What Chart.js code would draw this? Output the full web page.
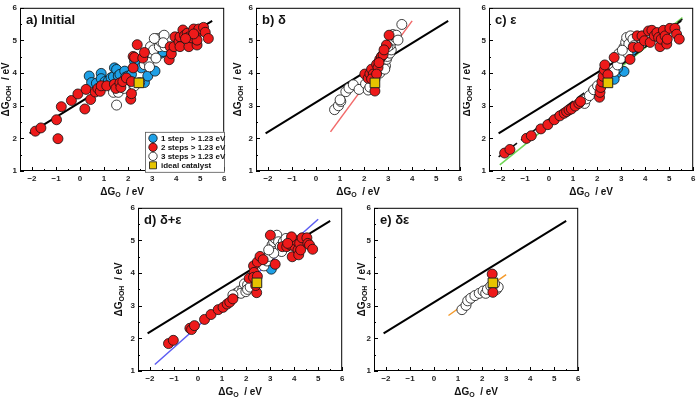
<!DOCTYPE html>
<html>
<head>
<meta charset="utf-8">
<script src="https://cdn.jsdelivr.net/npm/chart.js@4.4.1/dist/chart.umd.min.js"></script>
<style>
  body { margin: 0; background: #fff; width: 700px; height: 398px; position: relative; overflow: hidden; }
  canvas { position: absolute; }
</style>
</head>
<body>
<canvas id="pa" width="238" height="198"></canvas>
<canvas id="pb" width="238" height="198"></canvas>
<canvas id="pc" width="238" height="198"></canvas>
<canvas id="pd" width="238" height="198"></canvas>
<canvas id="pe" width="238" height="198"></canvas>
<script>
// axis ranges and ticks
const xRange = [-2.5, 6];
const yRange = [1, 6];
const xTicks = [-2, -1, 0, 1, 2, 3, 4, 5, 6];
const yTicks = [1, 2, 3, 4, 5, 6];

// scaling relation (black line, same in every panel)
const scaleLineX = [-2.1, 5.5];
const scaleLineY = [2.15, 5.6];

// ideal catalyst
const idealX = 2.45;
const idealY = 3.7;

// a) Initial
const aBlue = [[0.38,3.91],[0.48,3.71],[0.68,3.69],[0.88,3.99],[0.88,3.83],[1.04,3.74],[1.18,3.76],[1.29,3.86],
  [1.39,3.89],[1.43,4.16],[1.52,4.11],[1.59,3.91],[1.66,3.96],[1.86,4.06],[1.9,3.88],[2.0,3.91],[2.14,3.96],
  [2.27,4.36],[2.55,4.16],[2.68,3.71],[2.82,3.91],[3.12,4.06],[3.37,4.61],[3.46,4.66]];
const aRed = [[-1.86,2.22],[-1.63,2.32],[-0.98,2.57],[-0.78,2.97],[-0.92,1.99],[-0.36,3.16],[-0.09,3.36],
  [0.2,2.9],[0.25,3.5],[0.44,3.19],[0.63,3.42],[0.74,3.53],[0.84,3.44],[0.88,3.61],[1.11,3.61],[1.43,3.66],
  [1.49,3.53],[1.66,3.7],[1.7,3.56],[1.78,3.74],[1.93,3.85],[2.11,3.2],[2.14,3.37],[2.14,3.74],[2.21,4.16],
  [2.21,4.51],[2.27,4.48],[2.38,4.87],[2.61,4.46],[2.68,4.63],[3.71,4.41],[3.75,4.81],[3.8,4.59],[3.91,4.81],
  [3.95,5.11],[4.12,4.96],[4.16,5.11],[4.16,4.81],[4.28,5.32],[4.35,5.15],[4.46,5.22],[4.53,5.11],[4.53,4.81],
  [4.63,5.08],[4.73,5.35],[4.83,5.15],[4.87,4.86],[4.87,5.01],[4.94,5.35],[5.14,5.4],[5.21,5.25],[5.34,5.06],
  [4.73,5.2],[4.39,5.06]];
const aWhite = [[1.52,3.02],[1.39,3.41],[1.59,3.41],[1.84,3.53],[2.27,3.61],[2.48,3.71],[2.68,4.26],[2.75,4.46],
  [2.86,4.33],[2.93,4.81],[2.98,4.61],[3.06,4.71],[3.16,4.46],[3.23,5.06],[3.3,4.81],[3.37,4.96],[3.43,5.11],
  [3.5,5.16],[3.54,4.81],[3.46,4.93],[3.09,5.06],[2.89,4.19]];

// b) delta
const bRed = [[2.03,3.97],[2.17,3.84],[2.24,3.98],[2.31,4.12],[2.38,3.97],[2.45,3.45],[2.52,4.27],[2.58,4.17],
  [2.65,4.42],[2.72,4.51],[2.79,4.56],[2.93,4.86],[3.04,5.16],[2.45,3.82],[2.31,3.82],[2.52,3.97],[2.62,4.32],
  [2.83,4.71]];
const bWhite = [[0.77,2.88],[0.93,3.0],[1.03,3.13],[1.0,3.18],[1.24,3.43],[1.37,3.54],[1.55,3.64],[1.79,3.5],
  [2.06,3.67],[2.17,3.48],[2.24,3.57],[2.45,3.92],[2.65,4.0],[2.79,4.27],[2.89,4.22],[2.93,4.42],[2.97,4.51],
  [3.07,4.61],[3.13,4.71],[3.09,4.86],[3.2,5.01],[3.27,5.11],[3.2,5.18],[3.34,5.16],[3.41,5.01],[3.57,5.49],
  [2.99,4.81],[2.86,4.12]];
const bFitX = [0.6, 4.0];
const bFitY = [2.2, 5.6];

// c) epsilon
const cBlue = [[2.82,4.0],[2.71,3.81],[3.12,4.05],[3.39,4.6],[3.46,4.7],[2.85,4.15]];
const cRed = [[-1.85,1.55],[-1.63,1.66],[-0.94,2.0],[-0.74,2.08],[-0.34,2.29],[-0.05,2.42],[0.22,2.57],
  [0.45,2.69],[0.63,2.77],[0.73,2.82],[0.83,2.87],[0.93,2.9],[1.09,2.99],[1.24,3.07],[1.31,3.13],[2.1,3.26],
  [2.12,3.41],[2.15,3.56],[2.2,3.73],[2.25,3.9],[2.3,4.1],[2.32,4.25],[2.45,3.95],[2.71,4.48],[3.37,4.42],
  [3.5,4.79],[3.67,5.14],[3.73,4.79],[3.87,5.14],[3.97,4.99],[4.14,5.29],[4.21,4.94],[4.28,5.31],[4.38,5.14],
  [4.49,5.24],[4.56,5.09],[4.62,4.81],[4.67,5.04],[4.76,5.31],[4.83,5.14],[4.9,4.89],[4.92,5.04],[5.03,5.37],
  [5.24,5.37],[5.31,5.19],[5.42,5.04]];
const cWhite = [[1.48,3.07],[1.55,3.21],[1.68,3.31],[1.86,3.49],[2.02,3.61],[2.71,4.05],[2.85,4.25],[2.91,4.6],
  [2.98,4.45],[3.12,4.79],[3.19,4.94],[3.23,5.09],[3.32,4.89],[3.39,5.14],[3.49,5.04],[3.53,4.84],[3.28,4.6],
  [3.05,4.7]];
const cDashX = [-2.1, 5.55];
const cDashY = [1.43, 5.65];
const cFitX = [-2.05, 5.55];
const cFitY = [1.19, 5.7];

// d) delta+epsilon
const dBlue = [[3.05,4.12]];
const dRed = [[-1.23,1.84],[-1.03,1.94],[-0.34,2.31],[-0.27,2.27],[-0.15,2.39],[0.27,2.58],[0.54,2.73],
  [0.84,2.88],[1.04,2.95],[1.21,3.05],[1.32,3.11],[1.45,3.21],[2.13,3.84],[2.31,4.22],[2.33,4.02],[2.31,3.87],
  [2.47,4.34],[2.58,4.51],[2.71,4.41],[2.44,3.4],[2.47,3.9],[2.4,3.62],[3.01,5.16],[3.21,4.27],[3.51,4.81],
  [3.69,4.81],[3.82,4.91],[3.85,4.86],[3.92,4.5],[4.03,4.81],[4.09,4.99],[4.16,4.71],[4.19,4.56],[4.23,4.91],
  [4.27,4.71],[4.33,5.08],[4.53,5.08],[4.57,4.91],[4.64,4.86],[4.77,4.73],[3.89,5.11],[3.73,4.91]];
const dWhite = [[1.59,3.38],[1.72,3.45],[1.86,3.5],[1.93,3.67],[2.06,3.64],[1.79,3.38],[1.99,3.43],[2.06,3.5],
  [2.17,3.57],[2.74,4.22],[2.87,4.37],[2.94,4.51],[3.01,4.71],[3.08,4.86],[3.15,4.96],[3.21,5.06],[3.28,5.16],
  [3.35,4.96],[3.42,4.81],[3.48,4.66],[3.55,4.96],[3.66,5.06],[3.15,4.61],[2.94,4.71],[1.45,3.33]];
const dFitX = [-1.8, 5.0];
const dFitY = [1.2, 5.65];

// e) delta-epsilon
const eRed = [[2.42,3.97],[2.45,3.41]];
const eWhite = [[1.16,2.88],[1.33,3.01],[1.4,3.15],[1.53,3.23],[1.7,3.31],[1.88,3.38],[2.04,3.45],[2.15,3.38],
  [2.22,3.5],[2.36,3.6],[2.49,3.54],[2.6,3.5],[2.67,3.57],[2.52,3.67]];
const eFitX = [0.6, 3.0];
const eFitY = [2.7, 3.95];

const legendLabels = ['1 step   > 1.23 eV', '2 steps > 1.23 eV', '3 steps > 1.23 eV', 'ideal catalyst'];

const RED = '#ee1a1a', BLUE = '#1ea0e6', WHITE = '#ffffff', GOLD = '#e6c400';
const FONT = "'Liberation Sans', Arial, sans-serif";
Chart.defaults.font.family = FONT;

const toXY = arr => arr.map(p => ({ x: p[0], y: p[1] }));
const lineXY = (xs, ys) => xs.map((v, i) => ({ x: v, y: ys[i] }));

function pts(arr, color, order) {
  return { data: toXY(arr), backgroundColor: color, borderColor: '#111', borderWidth: 0.8,
    pointRadius: 5, order: order };
}
function ideal() {
  return { data: [{ x: idealX, y: idealY }], pointStyle: 'rect', backgroundColor: GOLD, borderColor: '#222',
    borderWidth: 1, pointRadius: 6.8, order: 0 };
}
function line(xs, ys, color, width, dash) {
  return { data: lineXY(xs, ys), showLine: true, pointRadius: 0, borderColor: color, borderWidth: width,
    borderDash: dash || [], order: 10 };
}

function richText(ctx, parts, x, y) {
  const big = 'bold 10px ' + FONT, small = 'bold 7px ' + FONT;
  let w = 0;
  parts.forEach(p => { ctx.font = p.sub ? small : big; w += ctx.measureText(p.t).width; });
  let cx = x - w / 2;
  ctx.textAlign = 'left';
  ctx.textBaseline = 'middle';
  parts.forEach(p => {
    ctx.font = p.sub ? small : big;
    ctx.fillText(p.t, cx, p.sub ? y + 3 : y);
    cx += ctx.measureText(p.t).width;
  });
}

const decor = {
  id: 'decor',
  afterDatasetsDraw(chart, args, o) {
    const { ctx, chartArea: a, scales } = chart;
    const sx = scales.x, sy = scales.y;
    ctx.save();
    ctx.strokeStyle = '#000';
    ctx.lineWidth = 1;
    ctx.strokeRect(a.left + 0.5, a.top + 0.5, a.width - 1, a.height - 1);
    // inward ticks
    ctx.beginPath();
    for (let v = xRange[0]; v <= xRange[1]; v += 0.5) {
      const px = Math.round(sx.getPixelForValue(v)) + 0.5;
      const len = Number.isInteger(v) ? 4 : 2;
      ctx.moveTo(px, a.bottom); ctx.lineTo(px, a.bottom - len);
    }
    for (let v = yRange[0]; v <= yRange[1]; v += 0.5) {
      const py = Math.round(sy.getPixelForValue(v)) + 0.5;
      const len = Number.isInteger(v) ? 4 : 2;
      ctx.moveTo(a.left, py); ctx.lineTo(a.left + len, py);
    }
    ctx.stroke();

    ctx.fillStyle = '#111';
    // panel label
    ctx.font = 'bold 13px ' + FONT;
    ctx.textAlign = 'left';
    ctx.textBaseline = 'middle';
    ctx.fillText(o.label, a.left + 6, a.top + 13);
    // axis titles
    richText(ctx, [{ t: 'ΔG' }, { t: 'O', sub: true }, { t: '  / eV' }], (a.left + a.right) / 2, a.bottom + 21);
    ctx.save();
    ctx.translate(a.left - o.titleOff, (a.top + a.bottom) / 2);
    ctx.rotate(-Math.PI / 2);
    richText(ctx, [{ t: 'ΔG' }, { t: 'OOH', sub: true }, { t: '  / eV' }], 0, 0);
    ctx.restore();

    if (o.legend) {
      const bx = a.left + 125, by = a.top + 124, bw = 79, bh = 40;
      ctx.fillStyle = '#fff';
      ctx.fillRect(bx, by, bw, bh);
      ctx.strokeStyle = '#555';
      ctx.lineWidth = 0.8;
      ctx.strokeRect(bx + 0.5, by + 0.5, bw, bh);
      const fills = [BLUE, RED, WHITE, GOLD];
      legendLabels.forEach((txt, i) => {
        const cy = by + 6.5 + i * 9;
        ctx.fillStyle = fills[i];
        ctx.strokeStyle = '#111';
        ctx.lineWidth = 0.8;
        ctx.beginPath();
        if (i === 3) ctx.rect(bx + 4.5, cy - 3.5, 7, 7);
        else ctx.arc(bx + 8, cy, 4.2, 0, Math.PI * 2);
        ctx.fill(); ctx.stroke();
        ctx.fillStyle = '#111';
        ctx.font = 'bold 8px ' + FONT;
        ctx.textBaseline = 'middle';
        ctx.fillText(txt, bx + 16, cy + 0.5);
      });
    }
    ctx.restore();
  }
};

const fmt = v => (v < 0 ? '\u2212' + Math.abs(v) : String(v));

function makePanel(id, left, top, label, titleOff, datasets, legend) {
  const el = document.getElementById(id);
  el.style.left = (left - 26) + 'px';
  el.style.top = (top - 3) + 'px';
  const tickFont = { size: 8, weight: 'bold', family: FONT };
  new Chart(el, {
    type: 'scatter',
    data: { datasets: datasets },
    options: {
      responsive: false,
      animation: false,
      events: [],
      layout: { padding: { left: 0, right: 4, top: 3, bottom: 0 } },
      plugins: {
        legend: { display: false },
        tooltip: { enabled: false },
        decor: { label: label, titleOff: titleOff, legend: legend }
      },
      scales: {
        x: {
          type: 'linear', min: xRange[0], max: xRange[1],
          grid: { display: false, drawTicks: false }, border: { display: false },
          ticks: { padding: 3, font: tickFont, color: '#222', callback: fmt, maxRotation: 0 },
          afterBuildTicks: s => { s.ticks = xTicks.map(v => ({ value: v })); },
          afterFit: s => { s.height = 27; s.paddingLeft = 0; s.paddingRight = 0; }
        },
        y: {
          type: 'linear', min: yRange[0], max: yRange[1],
          grid: { display: false, drawTicks: false }, border: { display: false },
          ticks: { padding: 3, font: tickFont, color: '#222', callback: fmt },
          afterBuildTicks: s => { s.ticks = yTicks.map(v => ({ value: v })); },
          afterFit: s => { s.width = 26; s.paddingTop = 0; s.paddingBottom = 0; }
        }
      }
    },
    plugins: [decor]
  });
}

const black = () => line(scaleLineX, scaleLineY, '#000', 2);

makePanel('pa', 20, 3, 'a) Initial', 14, [
  ideal(), pts(aRed, RED, 1), pts(aWhite, WHITE, 2), pts(aBlue, BLUE, 3), black()
], true);

makePanel('pb', 256, 3, 'b) \u03b4', 18, [
  ideal(), pts(bRed, RED, 1), pts(bWhite, WHITE, 2),
  line(bFitX, bFitY, '#f26a6a', 1.5), black()
], false);

makePanel('pc', 489, 3, 'c) \u03b5', 22, [
  ideal(), pts(cRed, RED, 1), pts(cWhite, WHITE, 2), pts(cBlue, BLUE, 3),
  line(cDashX, cDashY, '#111', 1.6, [9, 5]), line(cFitX, cFitY, '#6fd655', 1.5), black()
], false);

makePanel('pd', 138, 203, 'd) \u03b4+\u03b5', 19, [
  ideal(), pts(dRed, RED, 1), pts(dWhite, WHITE, 2), pts(dBlue, BLUE, 3),
  line(dFitX, dFitY, '#5b5cf2', 1.5), black()
], false);

makePanel('pe', 374, 203, 'e) \u03b4\u03b5', 12, [
  ideal(), pts(eRed, RED, 1), pts(eWhite, WHITE, 2),
  line(eFitX, eFitY, '#f59a2a', 1.5), black()
], false);
</script>
</body>
</html>
